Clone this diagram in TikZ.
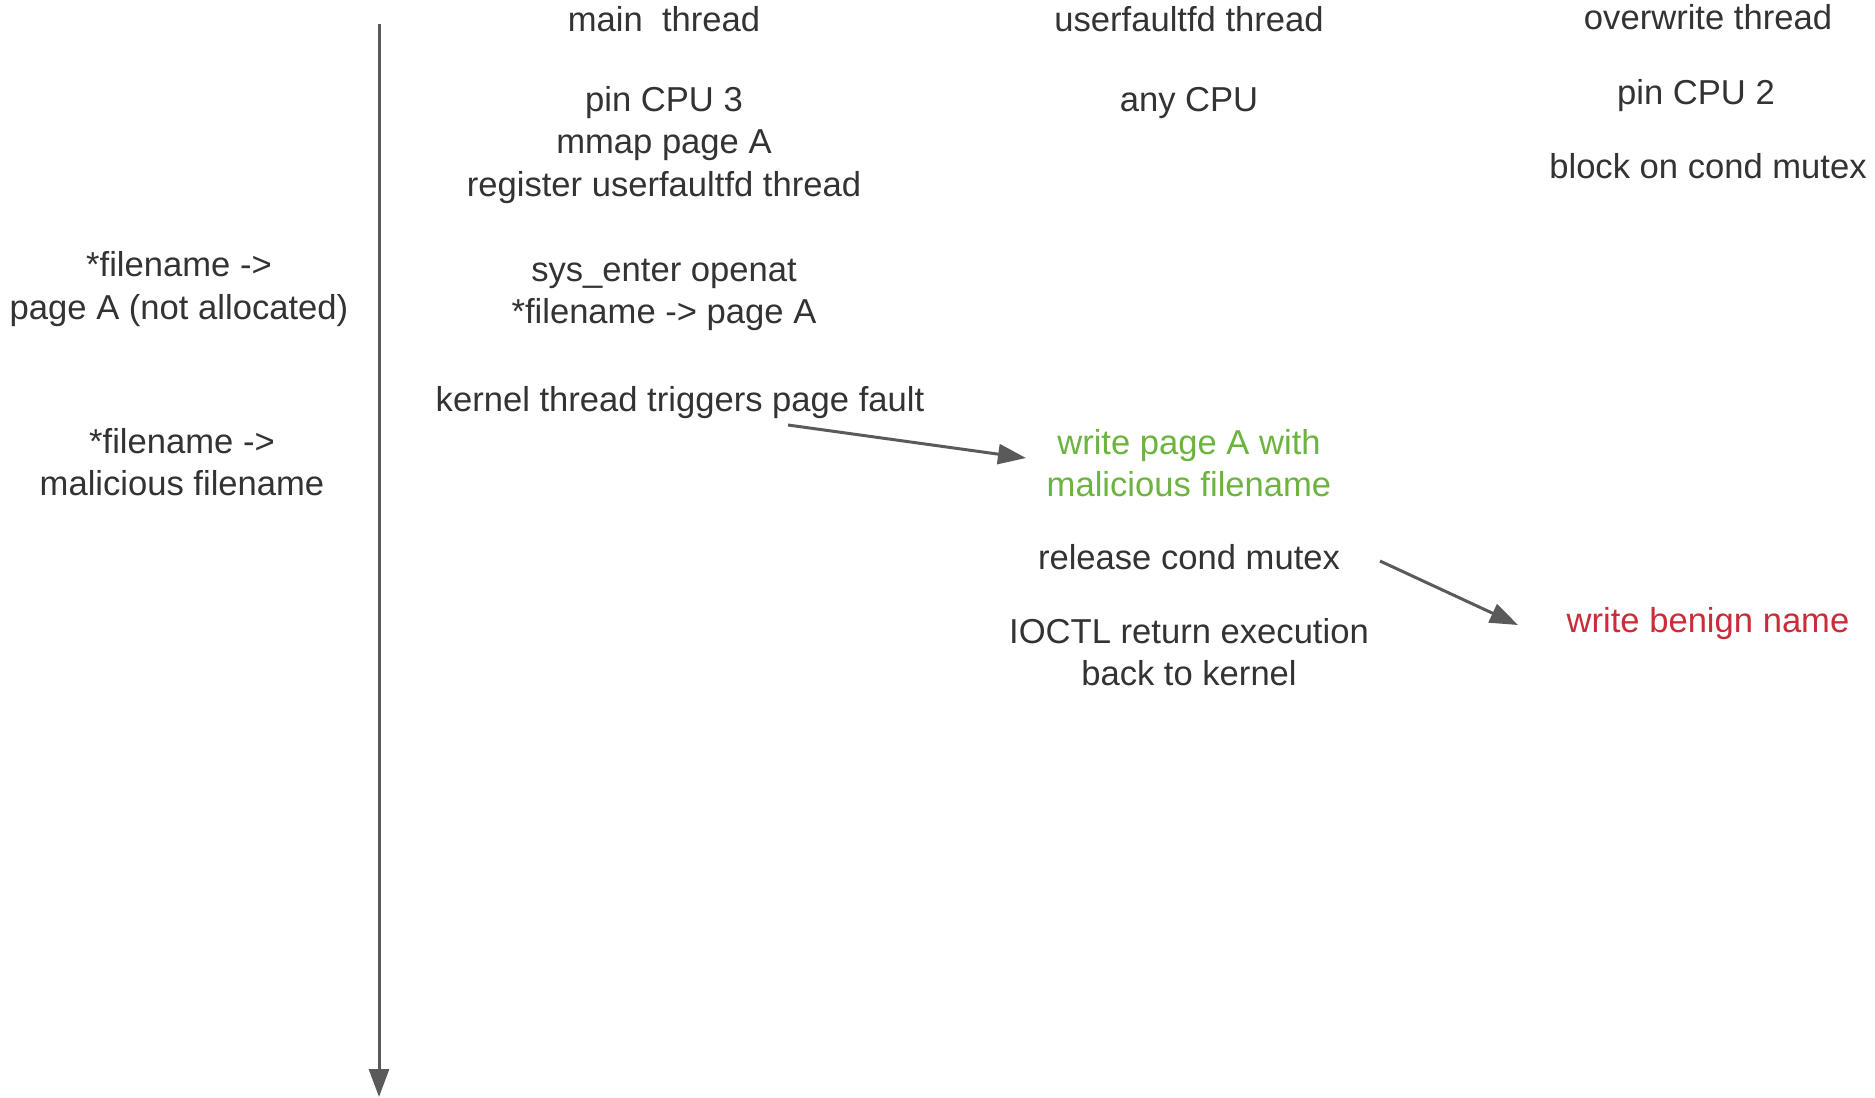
\documentclass[tikz,border=0pt]{standalone}
\usepackage{fontspec}
\setmainfont{Liberation Sans}
\usetikzlibrary{arrows.meta}
\definecolor{ink}{HTML}{333333}
\definecolor{wire}{HTML}{5A5A5A}
\definecolor{okgreen}{HTML}{6DB33F}
\definecolor{badred}{HTML}{C92D39}
\tikzset{
  lbl/.style={inner sep=0pt, align=center, text=ink,
    font={\fontsize{17.3}{21.3}\selectfont}},
  flow/.style={draw=wire, line width=1.5pt,
    -{Triangle[length=14pt,width=10pt]}},
}
\begin{document}
\begin{tikzpicture}[x=0.5pt,y=-0.5pt]
\useasboundingbox (0,0) rectangle (1875,1098);

% time axis
\coordinate (t0) at (379,24);
\coordinate (t1) at (379,1097);
\draw[flow] (t0) -- (t1);

% column headers
\node[lbl] (hmain) at (664,19) {main\ \ thread};
\node[lbl] (hufd)  at (1189,19) {userfaultfd thread};
\node[lbl] (hover) at (1708,17) {overwrite thread};

% main thread
\node[lbl] (msetup) at (664,145) {pin CPU 3\\mmap page A\\register userfaultfd thread};
\node[lbl] (mopen)  at (664,295) {sys\_enter openat\\*filename -> page A};
\node[lbl] (kfault) at (680,403) {kernel thread triggers page fault};

% userfaultfd thread
\node[lbl] (ucpu)    at (1189,103) {any CPU};
\node[lbl,text=okgreen] (uwrite) at (1189,463) {write page A with\\malicious filename};
\node[lbl] (urel)    at (1189,557) {release cond mutex};
\node[lbl] (uioctl)  at (1189,652) {IOCTL return execution\\back to kernel};

% overwrite thread
\node[lbl] (ocpu)   at (1696,96) {pin CPU 2};
\node[lbl] (oblock) at (1708,166) {block on cond mutex};
\node[lbl,text=badred] (obenign) at (1708,624) {write benign name};

% state of *filename
\node[lbl] (s1) at (179,289) {*filename ->\\page A (not allocated)};
\node[lbl] (s2) at (182,462) {*filename ->\\malicious filename};

% hand-offs between threads
\coordinate (a1s) at (788,425);
\coordinate (a1e) at (1026,458);
\draw[flow] (a1s) -- (a1e);
\coordinate (a2s) at (1380,561);
\coordinate (a2e) at (1518,625);
\draw[flow] (a2s) -- (a2e);
\end{tikzpicture}
\end{document}
